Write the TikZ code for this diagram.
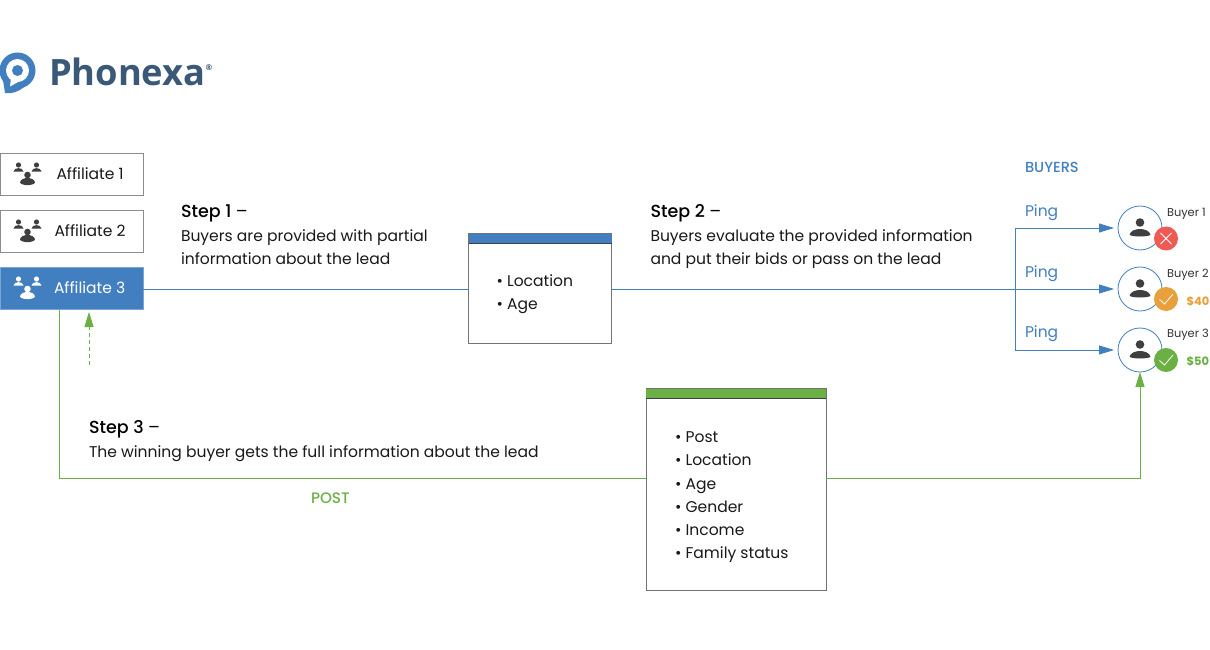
\documentclass[tikz,border=0pt]{standalone}
\usepackage{fontspec}
\setmainfont{Poppins}
\newfontfamily\medfont{Poppins Medium}
\newfontfamily\logofont{Open Sans}
\usetikzlibrary{arrows.meta,calc}
\definecolor{blueA}{HTML}{427FC0}
\definecolor{greenA}{HTML}{6BB044}
\definecolor{logoA}{HTML}{3A5878}
\definecolor{inkA}{HTML}{3F3F3F}
\definecolor{redA}{HTML}{F05A54}
\definecolor{orangeA}{HTML}{E99F3C}
\tikzset{
  every node/.style={outer sep=0pt},
  affbox/.style={draw=black!45,line width=0.8pt,fill=white,minimum width=143pt,minimum height=42pt,inner sep=0pt},
  txt/.style={inner sep=0pt,anchor=base west,font=\fontsize{15.55}{15.55}\selectfont,text=black!90},
  steptxt/.style={inner sep=0pt,anchor=base west,font=\medfont\fontsize{17.5}{17.5}\selectfont,text=black},
  bluelink/.style={draw=blueA,line width=0.8pt},
  greenlink/.style={draw=greenA,line width=0.8pt},
  bluetip/.style={-{Triangle[length=15pt,width=9pt,fill=blueA]}},
  greentip/.style={-{Triangle[length=15pt,width=9pt,fill=greenA]}},
  buyer/.style={circle,draw=blueA,line width=0.8pt,fill=white,minimum size=44pt,inner sep=0pt},
  badge/.style={circle,minimum size=24pt,inner sep=0pt},
  buyertxt/.style={inner sep=0pt,anchor=base west,font=\fontsize{11.4}{11.4}\selectfont,text=black!80},
  ping/.style={inner sep=0pt,anchor=base west,font=\fontsize{15.5}{15.5}\selectfont,text=blueA},
  price/.style={inner sep=0pt,anchor=base west,font=\fontsize{11.5}{11.5}\selectfont\bfseries},
  panel/.style={draw=black!55,line width=0.7pt,fill=white,inner sep=0pt},
}
\newcommand{\persongroup}[3]{% x y colour
  \begin{scope}[shift={(#1,#2)}]
    \fill[#3] (-9,-8) circle (2.6);
    \fill[#3] (-14,-1.5) .. controls (-13.5,-6) and (-4.5,-6) .. (-4,-1.5) -- cycle;
    \fill[#3] (9,-8) circle (2.6);
    \fill[#3] (4,-1.5) .. controls (4.5,-6) and (13.5,-6) .. (14,-1.5) -- cycle;
    \fill[#3] (0,2) circle (3.3);
    \fill[#3] (-7.5,9.5) .. controls (-6.5,3.5) and (6.5,3.5) .. (7.5,9.5) .. controls (6,13) and (-6,13) .. (-7.5,9.5) -- cycle;
  \end{scope}}
\newcommand{\personglyph}[2]{% x y
  \begin{scope}[shift={(#1,#2)}]
    \fill[inkA] (0,-5.5) circle (4.3);
    \fill[inkA] (-10.5,7) .. controls (-9,-1) and (9,-1) .. (10.5,7) .. controls (6,9) and (-6,9) .. (-10.5,7) -- cycle;
  \end{scope}}
\newcommand{\tick}[2]{\draw[white,line width=0.8pt] (#1-6.5,#2+0.5) -- (#1-1.5,#2+5) -- (#1+7,#2-5);}
\begin{document}
\begin{tikzpicture}[x=1pt,y=-1pt]
\useasboundingbox (0,0) rectangle (1210,650);
\fill[white] (0,0) rectangle (1210,650);

% logo
\fill[blueA] (17.5,70.5) circle (18);
\fill[blueA] (3,80) -- (5,93) .. controls (12,94) and (18,92) .. (24,87) -- cycle;
\fill[white] (17.5,70.5) circle (11.5);
\fill[white] (11,78) -- (10,86.5) -- (20,81) -- cycle;
\fill[blueA] (17.5,70.5) circle (5.5);
\node[inner sep=0pt,anchor=base west,font=\logofont\bfseries\fontsize{36.3}{36.3}\selectfont,text=logoA] (logo) at (49,86) {Phonexa};
\node[inner sep=0pt,anchor=base west,font=\logofont\bfseries\fontsize{8}{8}\selectfont,text=logoA] (logor) at (205.5,71) {®};

% affiliates
\node[affbox,anchor=north west] (a1) at (0,153) {};
\node[affbox,anchor=north west] (a2) at (0,210) {};
\node[affbox,anchor=north west,draw=blueA!70,fill=blueA] (a3) at (0,267) {};
\persongroup{27.5}{173}{inkA}
\persongroup{27.5}{230}{inkA}
\persongroup{27.5}{287}{white}
\node[txt] (t1) at (56.5,179) {Affiliate 1};
\node[txt] (t2) at (54.5,236) {Affiliate 2};
\node[txt,text=white] (t3) at (54,293) {Affiliate 3};

% step texts
\node[steptxt] (s1) at (181,217.5) {Step 1 {\fontspec{Poppins}–}};
\node[txt] (s1a) at (181,241) {Buyers are provided with partial};
\node[txt] (s1b) at (181,264) {information about the lead};
\node[steptxt] (s2) at (650.5,217.5) {Step 2 {\fontspec{Poppins}–}};
\node[txt] (s2a) at (650.5,241) {Buyers evaluate the provided information};
\node[txt] (s2b) at (650.5,264) {and put their bids or pass on the lead};
\node[steptxt] (s3) at (89,433.5) {Step 3 {\fontspec{Poppins}–}};
\node[txt] (s3a) at (89,457) {The winning buyer gets the full information about the lead};
\node[txt,text=greenA,font=\medfont\fontsize{15.2}{15.2}\selectfont] (post) at (311,503) {POST};
\node[txt,text=blueA,font=\medfont\fontsize{14.6}{14.6}\selectfont] (buyers) at (1025,172) {BUYERS};

% panel 1
\node[panel,anchor=north west,minimum width=143pt,minimum height=110pt] (p1) at (468.5,233.5) {};
\fill[blueA] (p1.north west) rectangle ($(p1.north east)+(0,10)$);
\draw[draw=black!55,line width=0.7pt] (p1.north west) -- (p1.north east);
\draw[draw=black!75,line width=0.7pt] ($(p1.north west)+(0,10)$) -- ($(p1.north east)+(0,10)$);
\node[txt] at (496.5,286) {• Location};
\node[txt] at (496.5,309) {• Age};

% panel 2
\node[panel,anchor=north west,minimum width=180pt,minimum height=202pt] (p2) at (646,388.5) {};
\fill[greenA] (p2.north west) rectangle ($(p2.north east)+(0,10)$);
\draw[draw=black!55,line width=0.7pt] (p2.north west) -- (p2.north east);
\draw[draw=black!75,line width=0.7pt] ($(p2.north west)+(0,10)$) -- ($(p2.north east)+(0,10)$);
\node[txt] at (675,442) {• Post};
\node[txt] at (675,465) {• Location};
\node[txt] at (675,489) {• Age};
\node[txt] at (675,512) {• Gender};
\node[txt] at (675,535) {• Income};
\node[txt] at (675,558) {• Family status};

% buyers
\node[buyer] (b1) at (1140,228) {};
\node[buyer] (b2) at (1140,289) {};
\node[buyer] (b3) at (1140,350) {};
\personglyph{1140}{228}
\personglyph{1140}{289}
\personglyph{1140}{350}
\node[badge,fill=redA] (c1) at (1166,238.5) {};
\node[badge,fill=orangeA] (c2) at (1166,299) {};
\node[badge,fill=greenA] (c3) at (1166,360) {};
\draw[white,line width=0.8pt] (1160.5,233) -- (1171.5,244) (1171.5,233) -- (1160.5,244);
\tick{1166}{299}
\tick{1166}{360}
\node[buyertxt] at (1167,216) {Buyer 1};
\node[buyertxt] at (1167,277) {Buyer 2};
\node[buyertxt] at (1167,337) {Buyer 3};
\node[price,text=orangeA] at (1186.5,305) {\$40};
\node[price,text=greenA] at (1186.5,365) {\$50};
\node[ping] at (1025,216) {Ping};
\node[ping] at (1025,277) {Ping};
\node[ping] at (1025,337) {Ping};

% connectors
\coordinate (fork) at (1015,289);
\coordinate (dashend) at (89,365);
\draw[bluelink] (a3.east |- fork) -- (p1.west |- fork);
\draw[bluelink] (p1.east |- fork) -- (fork);
\draw[bluelink,bluetip] (fork) |- ($(b1.west)+(-4,0)$);
\draw[bluelink,bluetip] (fork) -- ($(b2.west)+(-4,0)$);
\draw[bluelink,bluetip] (fork) |- ($(b3.west)+(-4,0)$);
\draw[greenlink] (59.5,310) -- (59.5,478.5) -- (p2.west |- 0,478.5);
\draw[greenlink,greentip] (p2.east |- 0,478.5) -- (1140,478.5) -- (b3.south);
\draw[greenlink,dashed,dash pattern=on 4pt off 3pt,greentip] (dashend) -- (89,312);
\end{tikzpicture}
\end{document}
